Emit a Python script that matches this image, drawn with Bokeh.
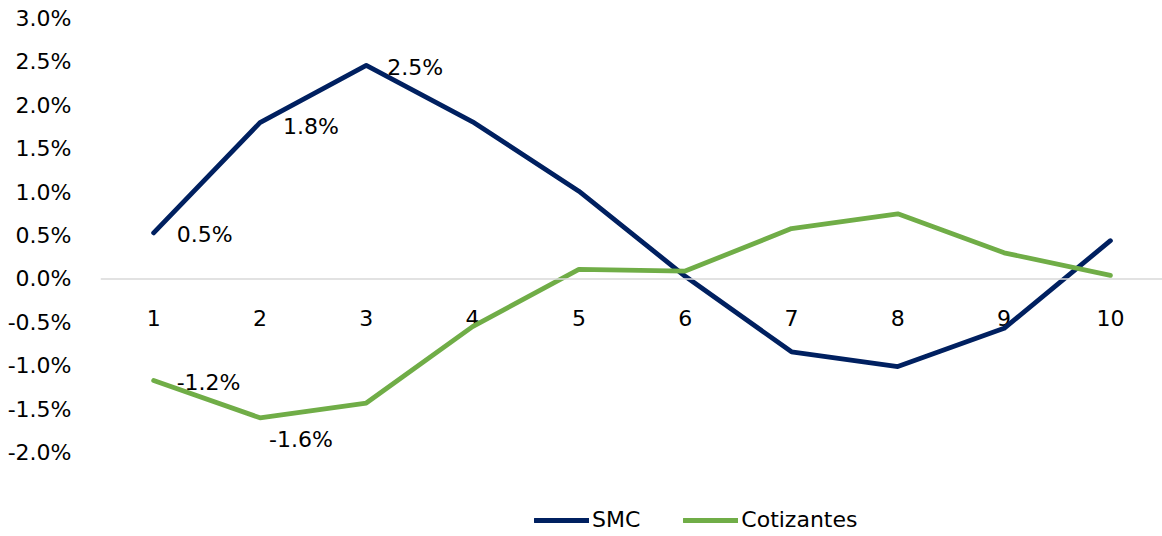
from bokeh.plotting import figure
from bokeh.models import Range1d, Span, Legend, LegendItem, PrintfTickFormatter, FixedTicker
from bokeh.core.properties import value
from bokeh.embed import file_html
from bokeh.resources import INLINE

deciles = [1, 2, 3, 4, 5, 6, 7, 8, 9, 10]
smc = [0.53, 1.80, 2.46, 1.81, 1.01, 0.03, -0.84, -1.01, -0.57, 0.44]
cotizantes = [-1.17, -1.60, -1.43, -0.55, 0.11, 0.09, 0.58, 0.75, 0.30, 0.04]
y_ticks = [-2.0, -1.5, -1.0, -0.5, 0.0, 0.5, 1.0, 1.5, 2.0, 2.5, 3.0]
tick_labels = [str(d) for d in deciles]

# data labels (shown on first points only)
smc_lab_x = [1, 2, 3]
smc_lab_y = [0.53, 1.80, 2.46]
smc_lab_t = ["0.5%", "1.8%", "2.5%"]
cot_lab_x = [1, 2]
cot_lab_y = [-1.17, -1.60]
cot_lab_t = ["-1.2%", "-1.6%"]

FONT = "DejaVu Sans"
FS = "22px"
NAVY = "#002060"
GREEN = "#70AD47"

p = figure(width=1162, height=536, output_backend="svg", toolbar_location=None,
           x_range=Range1d(0.5, 10.49), y_range=Range1d(-2.968, 3),
           min_border_left=100, min_border_right=0, min_border_top=18, min_border_bottom=0)
p.outline_line_color = None
p.grid.visible = False
p.xaxis.visible = False

p.yaxis.ticker = FixedTicker(ticks=y_ticks)
p.yaxis.formatter = PrintfTickFormatter(format="%.1f%%")
p.yaxis.axis_line_color = None
p.yaxis.major_tick_line_color = None
p.yaxis.minor_tick_line_color = None
p.yaxis.major_label_text_font = FONT
p.yaxis.major_label_text_font_size = FS
p.yaxis.major_label_text_color = "#000000"
p.yaxis.major_label_standoff = 23

zero = Span(location=0, dimension="width", line_color="#d9d9d9", line_width=1.5)
p.add_layout(zero)

# category labels just below zero line
p.text(x=deciles, y=[0] * len(deciles), text=tick_labels, y_offset=39,
       text_align="center", text_baseline="middle",
       text_font=value(FONT), text_font_size=FS, text_color="#000000")

r1 = p.line(deciles, smc, line_color=NAVY, line_width=4.8, line_join="round", line_cap="round")
r2 = p.line(deciles, cotizantes, line_color=GREEN, line_width=4.8, line_join="round", line_cap="round")

p.text(x=smc_lab_x, y=smc_lab_y, text=smc_lab_t, x_offset=[23, 23, 21], y_offset=[2, 4, 2],
       text_align="left", text_baseline="middle",
       text_font=value(FONT), text_font_size=FS, text_color="#000000")
p.text(x=cot_lab_x, y=cot_lab_y, text=cot_lab_t, x_offset=[23, 9], y_offset=[2, 22],
       text_align="left", text_baseline="middle",
       text_font=value(FONT), text_font_size=FS, text_color="#000000")

legend = Legend(items=[LegendItem(label="SMC", renderers=[r1]),
                       LegendItem(label="Cotizantes", renderers=[r2])],
                orientation="horizontal", location=(434, 4),
                glyph_width=55, glyph_height=24, label_standoff=3, spacing=43,
                padding=0, margin=0, border_line_alpha=0, background_fill_alpha=0,
                label_text_font=FONT, label_text_font_size=FS, label_text_color="#000000")
p.add_layout(legend, "center")

open("out.html", "w").write(file_html(p, INLINE))
